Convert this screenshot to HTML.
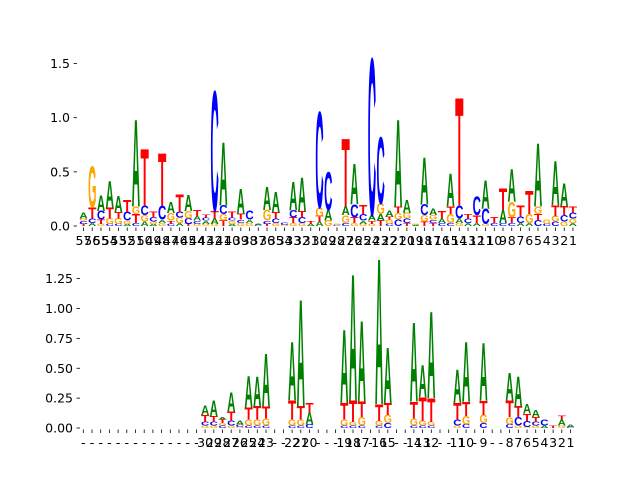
<!DOCTYPE html>
<html><head><meta charset="utf-8"><style>
html,body{margin:0;padding:0;background:#fff}
svg{display:block}
text{font-family:"DejaVu Sans","Liberation Sans",sans-serif}
</style></head><body>
<svg id="c" width="640" height="480" xmlns="http://www.w3.org/2000/svg"></svg>
<script>
const topLabels = [];
for (let k = 57; k >= 1; k--) topLabels.push(String(k));
const topCols = [
 [['T',.02],['C',.03],['G',.02],['A',.05]],
 [['A',.03],['C',.04],['T',.1],['G',.38]],
 [['G',.02],['T',.04],['C',.08],['A',.14]],
 [['C',.02],['G',.05],['T',.1],['A',.24]],
 [['C',.02],['G',.05],['T',.06],['A',.15]],
 [['A',.02],['G',.03],['C',.08],['T',.11]],
 [['C',.03],['T',.08],['G',.07],['A',.8]],
 [['A',.04],['G',.06],['C',.09],['T',.52]],
 [['A',.02],['G',.02],['C',.04],['T',.05]],
 [['G',.03],['A',.03],['C',.13],['T',.48]],
 [['C',.02],['T',.03],['G',.07],['A',.1]],
 [['A',.03],['G',.05],['C',.05],['T',.16]],
 [['T',.02],['C',.05],['G',.07],['A',.15]],
 [['G',.02],['C',.03],['A',.04],['T',.06]],
 [['G',.02],['A',.03],['C',.03],['T',.03]],
 [['G',.02],['A',.05],['T',.07],['C',1.1]],
 [['T',.05],['G',.06],['C',.08],['A',.58]],
 [['A',.02],['G',.03],['C',.03],['T',.05]],
 [['G',.03],['C',.03],['T',.05],['A',.23]],
 [['G',.03],['A',.03],['C',.08]],
 [['C',.01],['A',.01]],
 [['T',.02],['C',.03],['G',.1],['A',.21]],
 [['G',.03],['C',.04],['T',.06],['A',.18]],
 [['G',.01],['C',.02]],
 [['G',.03],['T',.05],['C',.07],['A',.26]],
 [['G',.03],['C',.05],['T',.06],['A',.31]],
 [['A',.02],['T',.03]],
 [['A',.04],['T',.05],['G',.08],['C',.88]],
 [['G',.05],['A',.1],['C',.35]],
 [['C',.01],['G',.01]],
 [['C',.03],['G',.07],['A',.08],['T',.62]],
 [['G',.03],['T',.05],['C',.12],['A',.37]],
 [['G',.02],['A',.03],['C',.06],['T',.08]],
 [['G',.02],['T',.03],['A',.05],['C',1.44]],
 [['T',.05],['A',.06],['G',.1],['C',.61]],
 [['C',.02],['G',.04],['T',.03],['A',.05]],
 [['C',.06],['G',.06],['T',.06],['A',.8]],
 [['T',.03],['C',.04],['G',.05],['A',.12]],
 [['A',.01],['G',.01]],
 [['T',.04],['G',.06],['C',.1],['A',.43]],
 [['T',.03],['C',.03],['G',.04],['A',.06]],
 [['C',.03],['A',.04],['T',.07]],
 [['C',.03],['G',.08],['T',.07],['A',.3]],
 [['G',.03],['A',.04],['C',.12],['T',.99]],
 [['A',.03],['C',.04],['T',.04]],
 [['A',.03],['T',.07],['C',.17]],
 [['G',.02],['C',.14],['A',.26]],
 [['C',.03],['T',.05]],
 [['C',.03],['A',.12],['T',.2]],
 [['C',.03],['T',.05],['G',.14],['A',.3]],
 [['A',.03],['C',.06],['T',.1]],
 [['A',.03],['G',.08],['T',.21]],
 [['C',.05],['T',.06],['G',.07],['A',.58]],
 [['C',.02],['G',.04]],
 [['C',.04],['G',.05],['T',.1],['A',.41]],
 [['G',.04],['C',.06],['T',.08],['A',.21]],
 [['A',.03],['G',.04],['C',.05],['T',.06]]
];
const botLabels = ['-','-','-','-','-','-','-','-','-','-','-','-','-','-',
 '30','29','28','27','26','25','24','23','-','-','22','21','20','-','-','-',
 '19','18','17','-','16','15','-','-','14','13','12','-','-','11','10','-',
 '9','-','-','8','7','6','5','4','3','2','1'];
const botCols = {
 14:[['G',.02],['C',.03],['T',.06],['A',.08]],
 15:[['G',.02],['C',.03],['T',.05],['A',.13]],
 16:[['C',.02],['G',.02],['T',.03],['A',.02]],
 17:[['G',.02],['C',.04],['T',.08],['A',.16]],
 18:[['G',.01],['C',.02],['A',.03]],
 19:[['C',.02],['G',.05],['T',.1],['A',.26]],
 20:[['C',.02],['G',.05],['T',.11],['A',.25]],
 21:[['C',.02],['G',.06],['T',.1],['A',.44]],
 24:[['C',.02],['G',.05],['T',.16],['A',.49]],
 25:[['C',.02],['G',.05],['T',.11],['A',.89]],
 26:[['C',.03],['A',.1],['T',.08]],
 30:[['C',.02],['G',.05],['T',.14],['A',.61]],
 31:[['C',.02],['G',.03],['T',.18],['A',1.05]],
 32:[['C',.02],['G',.07],['T',.13],['A',.67]],
 34:[['C',.02],['G',.04],['T',.14],['A',1.21]],
 35:[['C',.04],['G',.07],['T',.1],['A',.46]],
 38:[['C',.02],['G',.06],['T',.14],['A',.66]],
 39:[['C',.02],['G',.04],['T',.2],['A',.27]],
 40:[['C',.02],['G',.03],['T',.2],['A',.72]],
 43:[['G',.02],['C',.05],['T',.14],['A',.28]],
 44:[['C',.03],['G',.07],['T',.12],['A',.5]],
 46:[['C',.04],['G',.07],['T',.12],['A',.48]],
 49:[['C',.03],['G',.06],['T',.14],['A',.23]],
 50:[['G',.02],['C',.07],['T',.09],['A',.25]],
 51:[['G',.01],['C',.05],['T',.06],['A',.08]],
 52:[['G',.02],['C',.03],['T',.04],['A',.06]],
 53:[['A',.02],['C',.05]],
 54:[['T',.02]],
 55:[['G',.02],['A',.05],['T',.03]],
 56:[['C',.01],['A',.02]]
};
const topTicks = ['0.0','0.5','1.0','1.5'];
const topTickVals = [0,0.5,1.0,1.5];
const botTicks = ['0.00','0.25','0.50','0.75','1.00','1.25'];
const botTickVals = [0,0.25,0.5,0.75,1.0,1.25];

const NS='http://www.w3.org/2000/svg';
const svg=document.getElementById('c');
const COLORS={A:'#008000',C:'#0000ff',G:'#ffa500',T:'#ff0000'};
const ADV={A:0.722,C:0.722,G:0.778,T:0.611};
function mk(tag,attrs,parent){const e=document.createElementNS(NS,tag);for(const k in attrs)e.setAttribute(k,attrs[k]);(parent||svg).appendChild(e);return e;}

function drawPanel(P){
  const g=mk('g',{});
  
  
  const xs=i=>P.x0+P.step*i;
  const ys=v=>P.y0-P.ppu*v;
  const w=P.step*0.95;
  P.cols.forEach((stack,i)=>{
    if(!stack)return;
    let base=0;
    stack.forEach(([L,h])=>{
      const hp=h*P.ppu;
      if(hp>0.05){
        const t=mk('text',{x:0,y:0,'text-anchor':'middle','font-size':100,fill:COLORS[L],
          style:'font-family:"Liberation Sans",sans-serif;font-weight:bold',
          transform:`translate(${xs(i)},${ys(base)}) scale(${w/(ADV[L]*100)},${hp/69})`},g);
        t.textContent=L;
        
        
      }
      base+=h;
    });
  });
  P.yTickVals.forEach((v,k)=>{
    const y=ys(v);
    const tl=mk('line',{x1:P.yTickX-3.5,x2:P.yTickX,y1:y,y2:y,stroke:'#000','stroke-width':0.8},g);
    
    
    const t=mk('text',{x:P.yTickX-7,y:y+4.5,'text-anchor':'end','font-size':12.5,fill:'#000'},g);
    t.textContent=P.yTicks[k];
    
    
  });
  P.labels.forEach((lab,i)=>{
    const x=xs(i);
    const tl=mk('line',{x1:x,x2:x,y1:P.y0+1.5,y2:P.y0+5,stroke:'#000','stroke-width':0.8},g);
    
    
    const t=mk('text',{x:x,y:P.y0+19,'text-anchor':'middle','font-size':12.5,fill:'#000'},g);
    t.textContent=lab;
    
    
  });
}
drawPanel({name:'top-logo-panel',cols:topCols,labels:topLabels,x0:83.5,step:8.74,y0:226,ppu:108.3,
  yTicks:topTicks,yTickVals:topTickVals,yTickX:77});
const botArr=[];for(let i=0;i<57;i++)botArr.push(botCols[i]||null);
drawPanel({name:'bottom-logo-panel',cols:botArr,labels:botLabels,x0:83.3,step:8.7,y0:428,ppu:119.5,
  yTicks:botTicks,yTickVals:botTickVals,yTickX:80});
</script>
</body></html>
